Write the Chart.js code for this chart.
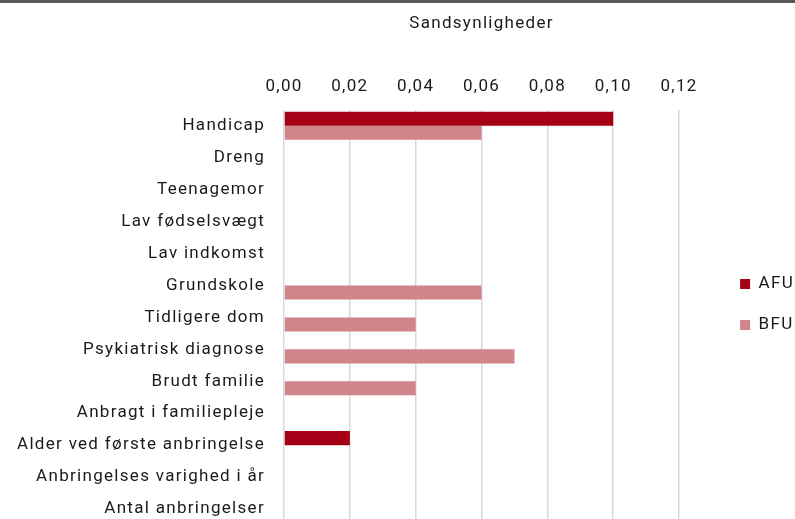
<!DOCTYPE html>
<html>
<head>
<meta charset="utf-8">
<script src="https://cdn.jsdelivr.net/npm/chart.js@4.4.1/dist/chart.umd.min.js"></script>
<style>
    html, body { margin: 0; padding: 0; overflow: hidden; background: #fff; }
    #topLine { position: absolute; left: 0; top: 0; width: 795px; height: 3px; background: #595959; }
    #chart { position: absolute; left: 0; top: 0; }
</style>
</head>
<body>
<canvas id="chart" width="795" height="525"></canvas>
<div id="topLine"></div>
<script>
// Chart data
const categories = [
    'Handicap', 'Dreng', 'Teenagemor', 'Lav fødselsvægt', 'Lav indkomst',
    'Grundskole', 'Tidligere dom', 'Psykiatrisk diagnose', 'Brudt familie',
    'Anbragt i familiepleje', 'Alder ved første anbringelse',
    'Anbringelses varighed i år', 'Antal anbringelser'
];
const afuValues = [0.10, null, null, null, null, null, null, null, null, null, 0.02, null, null];
const bfuValues = [0.06, null, null, null, null, 0.06, 0.04, 0.07, 0.04, null, null, null, null];
const xTicks = [0, 0.02, 0.04, 0.06, 0.08, 0.10, 0.12];

Chart.defaults.font.family = "Roboto, sans-serif";
Chart.defaults.font.size = 17;
Chart.defaults.color = '#1a1a1a';

// wider letter spacing, closer to the DIN-like font of the original
const spacingPlugin = {
    id: 'spacing',
    beforeUpdate(chart) { chart.ctx.letterSpacing = '1.3px'; },
    beforeDraw(chart) { chart.ctx.letterSpacing = '1.3px'; }
};

const ctx = document.getElementById('chart').getContext('2d');
new Chart(ctx, {
    type: 'bar',
    data: {
        labels: categories,
        datasets: [
            {
                label: 'AFU',
                data: afuValues,
                backgroundColor: '#a50016'
            },
            {
                label: 'BFU',
                data: bfuValues,
                backgroundColor: '#d0858a'
            }
        ]
    },
    options: {
        indexAxis: 'y',
        responsive: false,
        animation: false,
        categoryPercentage: 0.88,
        barPercentage: 1.0,
        layout: {
            padding: { top: 14, right: -9, left: 0, bottom: 0 }
        },
        plugins: {
            legend: {
                position: 'right',
                labels: {
                    boxWidth: 10,
                    boxHeight: 10,
                    padding: 24,
                    font: { size: 17 }
                },
                title: {
                    display: true,
                    text: '',
                    font: { size: 10 },
                    padding: { top: 0, bottom: 58 }
                }
            },
            tooltip: { enabled: false }
        },
        scales: {
            x: {
                position: 'top',
                min: 0,
                max: 0.12,
                afterBuildTicks: (scale) => {
                    scale.ticks = xTicks.map(v => ({ value: v }));
                },
                afterFit: (scale) => {
                    scale.paddingLeft = 0;
                    scale.paddingRight = 0;
                },
                ticks: {
                    padding: 13,
                    callback: (value) => value.toFixed(2).replace('.', ',')
                },
                grid: {
                    color: '#d9d9d9',
                    lineWidth: 1.5,
                    drawTicks: false
                },
                border: { display: false },
                title: {
                    display: true,
                    text: 'Sandsynligheder',
                    padding: { top: 0, bottom: 29 }
                }
            },
            y: {
                grid: { display: false, drawTicks: false },
                border: { display: false },
                ticks: { padding: 19 },
                afterFit: (scale) => {
                    scale.width = 284;
                    scale.paddingTop = 0;
                    scale.paddingBottom = 0;
                }
            },
            // empty spacer between plot and legend
            spacer: {
                type: 'category',
                labels: categories,
                position: 'right',
                grid: { display: false, drawTicks: false },
                border: { display: false },
                ticks: { display: false },
                afterFit: (scale) => {
                    scale.width = 37;
                    scale.paddingTop = 0;
                    scale.paddingBottom = 0;
                }
            }
        }
    },
    plugins: [spacingPlugin]
});
</script>
</body>
</html>
